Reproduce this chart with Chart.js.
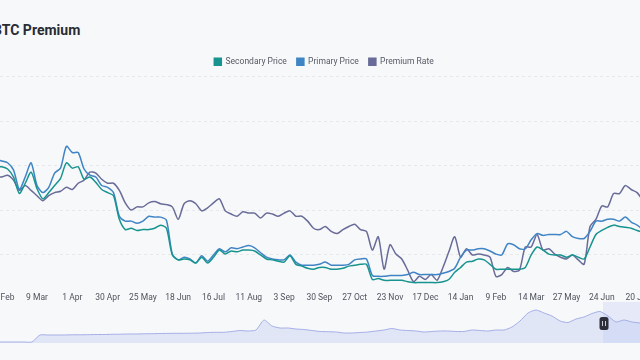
<!DOCTYPE html>
<html>
<head>
<meta charset="utf-8">
<script src="https://cdn.jsdelivr.net/npm/chart.js@4.4.0/dist/chart.umd.min.js"></script>
<style>
    html, body { margin: 0; padding: 0; width: 640px; height: 360px; overflow: hidden; background: #f7f8fa; font-family: Roboto, sans-serif; }
    #title { position: absolute; left: -7px; top: 22px; font-size: 14px; font-weight: 700; color: #2a2c33; white-space: nowrap; }
    #mainBox { position: absolute; left: -36px; top: 40px; width: 720px; height: 266px; }
    #sliderBox { position: absolute; left: 0; top: 300px; width: 640px; height: 43px; }
</style>
</head>
<body>
<div id="title">BTC Premium</div>
<div id="mainBox"><canvas id="mainChart"></canvas></div>
<div id="sliderBox"><canvas id="sliderChart"></canvas></div>
<script>
// tick labels on the x axis (one every 6 samples)
const tickLabels = ['13 Feb', '9 Mar', '1 Apr', '30 Apr', '25 May', '18 Jun', '16 Jul', '11 Aug', '3 Sep', '30 Sep',
    '27 Oct', '23 Nov', '17 Dec', '14 Jan', '9 Feb', '14 Mar', '27 May', '24 Jun', '20 Jul'];
const PER_TICK = 6;   // samples between two tick labels
const FIRST = -1;     // index of the first sample relative to the first tick

const secondaryPrice = [
    29.8, 29.8, 29.3, 27.5, 23.8, 26.1, 28.6, 24.9, 22.6, 24.0,
    25.6, 27.2, 30.7, 29.5, 29.8, 27.0, 27.5, 26.3, 24.7, 24.0,
    23.3, 18.0, 15.7, 16.0, 15.5, 15.7, 15.7, 16.0, 16.7, 16.0,
    10.0, 8.9, 9.1, 8.9, 8.2, 9.5, 8.2, 9.5, 11.1, 10.2,
    10.9, 10.7, 11.1, 11.1, 10.9, 10.0, 9.1, 8.9, 8.6, 8.4,
    9.8, 7.9, 7.5, 7.0, 6.8, 7.2, 7.2, 6.8, 6.8, 7.0,
    7.5, 7.7, 7.9, 7.9, 4.5, 4.7, 4.3, 4.3, 4.3, 4.3,
    4.0, 3.8, 3.8, 3.8, 3.8, 3.8, 4.0, 4.5, 6.1, 7.2,
    8.4, 8.6, 9.1, 8.9, 7.9, 6.8, 6.8, 6.8, 6.8, 6.8,
    7.2, 10.0, 11.8, 11.1, 10.2, 10.0, 10.0, 9.5, 10.0, 9.5,
    9.1, 11.8, 14.6, 15.5, 16.2, 16.7, 16.4, 16.2, 16.0, 15.5,
    15.1
];
const primaryPrice = [
    31.4, 31.1, 30.7, 29.1, 24.7, 27.5, 30.7, 25.6, 24.0, 25.2,
    28.4, 29.5, 34.4, 33.0, 33.0, 29.3, 27.9, 27.5, 25.6, 25.2,
    24.0, 18.7, 17.6, 17.6, 17.1, 17.6, 18.7, 18.5, 18.5, 17.8,
    10.2, 8.9, 9.5, 9.1, 8.2, 9.8, 8.6, 10.0, 11.4, 10.7,
    11.6, 11.4, 11.8, 12.1, 11.6, 10.5, 9.5, 9.1, 8.9, 8.9,
    10.0, 8.4, 7.7, 7.7, 7.7, 7.9, 8.4, 7.7, 7.7, 7.7,
    7.9, 8.9, 9.1, 9.1, 5.4, 5.2, 5.2, 5.4, 5.4, 5.4,
    5.6, 6.1, 5.6, 5.6, 5.6, 5.6, 5.9, 6.3, 7.0, 9.5,
    11.1, 11.1, 11.4, 11.4, 10.9, 10.2, 10.0, 12.5, 12.3, 11.4,
    11.4, 13.4, 14.8, 14.4, 14.6, 14.6, 14.6, 15.3, 14.1, 13.7,
    13.7, 15.3, 17.6, 17.6, 18.0, 18.0, 17.6, 18.5, 17.4, 16.7,
    15.7
];
const premiumRate = [
    27.7, 27.5, 27.9, 26.8, 24.5, 25.6, 24.5, 23.3, 22.2, 23.3,
    24.0, 24.3, 25.2, 24.7, 26.1, 26.8, 28.6, 28.4, 27.0, 26.1,
    26.1, 24.5, 21.7, 20.1, 20.8, 20.8, 21.7, 22.0, 21.5, 21.3,
    20.8, 18.0, 21.5, 22.2, 21.5, 19.9, 20.6, 21.7, 22.6, 19.9,
    19.2, 18.7, 19.7, 19.4, 19.4, 18.3, 19.4, 19.2, 18.7, 19.4,
    19.9, 18.7, 18.7, 17.6, 16.0, 15.7, 16.4, 15.3, 14.8, 15.7,
    16.4, 16.9, 15.7, 15.3, 11.1, 14.1, 6.8, 12.3, 10.2, 9.1,
    6.6, 4.0, 5.2, 4.5, 5.6, 4.3, 7.2, 10.7, 14.1, 9.5,
    11.4, 10.0, 10.2, 10.0, 9.5, 5.2, 5.6, 7.2, 6.3, 6.6,
    11.8, 11.8, 14.6, 11.1, 11.4, 10.2, 9.5, 9.1, 10.0, 8.9,
    7.9, 16.4, 18.0, 21.0, 20.8, 23.8, 23.8, 25.6, 24.7, 24.0,
    22.2
];

// overview series shown in the zoom slider under the chart
const SLIDER_STEP = 8;
const sliderValues = [
    1, 1, 1, 1, 1, 8, 8, 8, 8, 8.2,
    8.2, 8.3, 8.5, 8.5, 8.7, 8.8, 9, 9, 9.2, 9.3,
    9.5, 9.6, 9.7, 9.7, 9.8, 10, 10.5, 10.7, 10.7, 11.5,
    12.5, 12, 13, 23, 17, 15, 15, 14, 13.5, 12.5,
    11.5, 11.3, 11, 10, 10, 10.5, 11, 12, 13, 14.5,
    13, 12.5, 12, 11, 11.5, 12, 12, 11.5, 11.5, 13,
    12.5, 12, 13, 13, 16, 22, 30, 33, 30, 27,
    22, 20.5, 24, 26, 29.5, 31.5, 27, 21, 23, 21,
    20
];
const sliderWindow = [603, 640];

function toPoints(values) {
    return values.map((v, i) => ({ x: (i + FIRST) / PER_TICK, y: v }));
}

const mainChart = new Chart(document.getElementById('mainChart'), {
    type: 'line',
    data: {
        datasets: [
            { label: 'Secondary Price', data: toPoints(secondaryPrice), borderColor: '#17948f', backgroundColor: '#17948f' },
            { label: 'Primary Price', data: toPoints(primaryPrice), borderColor: '#3f84c5', backgroundColor: '#3f84c5' },
            { label: 'Premium Rate', data: toPoints(premiumRate), borderColor: '#696b98', backgroundColor: '#696b98' }
        ]
    },
    options: {
        responsive: true,
        maintainAspectRatio: false,
        animation: false,
        layout: { padding: { top: 7.6, left: 0, right: 0, bottom: 0 } },
        elements: {
            line: { borderWidth: 1.5, tension: 0.25 },
            point: { radius: 0 }
        },
        plugins: {
            tooltip: { enabled: false },
            legend: {
                position: 'top',
                labels: {
                    boxWidth: 7,
                    boxHeight: 7,
                    padding: 10,
                    color: '#555a63',
                    font: { family: 'Roboto', size: 8.5 }
                }
            }
        },
        scales: {
            x: {
                type: 'linear',
                min: -1.068,
                max: 19.329,
                afterBuildTicks: scale => { scale.ticks = tickLabels.map((_, i) => ({ value: i })); },
                ticks: {
                    autoSkip: false,
                    maxRotation: 0,
                    padding: 3,
                    color: '#4f535c',
                    font: { family: 'Roboto', size: 8.5 },
                    callback: value => tickLabels[value] || ''
                },
                grid: { display: false, drawTicks: false },
                border: { display: false }
            },
            y: {
                min: 2.18,
                max: 50.16,
                afterBuildTicks: scale => { scale.ticks = [10, 20, 30, 40, 50].map(v => ({ value: v })); },
                ticks: { display: false },
                grid: { color: '#e6e8ec', drawTicks: false },
                border: { display: false, dash: [3, 3] }
            }
        }
    }
});

// slider window + handle
const sliderDecor = {
    id: 'sliderDecor',
    beforeDatasetsDraw(chart) {
        const { ctx, chartArea, scales } = chart;
        const x0 = scales.x.getPixelForValue(sliderWindow[0]);
        const x1 = scales.x.getPixelForValue(sliderWindow[1]);
        ctx.save();
        ctx.fillStyle = 'rgba(140, 158, 240, 0.16)';
        ctx.fillRect(x0, chartArea.top + 2, x1 - x0, chartArea.bottom - chartArea.top - 2);
        ctx.restore();
    },
    afterDraw(chart) {
        const { ctx, chartArea, scales } = chart;
        const cx = scales.x.getPixelForValue(sliderWindow[0]) + 1;
        const cy = (chartArea.top + chartArea.bottom) / 2 + 2;
        ctx.save();
        ctx.fillStyle = '#2d2f3b';
        ctx.beginPath();
        ctx.roundRect(cx - 4.5, cy - 6.5, 9, 13, 2.5);
        ctx.fill();
        ctx.fillStyle = '#c9ccd6';
        ctx.fillRect(cx - 2, cy - 2.5, 1, 5);
        ctx.fillRect(cx + 1, cy - 2.5, 1, 5);
        ctx.restore();
    }
};

const sliderChart = new Chart(document.getElementById('sliderChart'), {
    type: 'line',
    data: {
        datasets: [{
            data: sliderValues.map((v, i) => ({ x: i * SLIDER_STEP, y: v })),
            borderColor: '#a4aee6',
            backgroundColor: 'rgba(170, 182, 238, 0.28)',
            borderWidth: 1,
            fill: 'origin',
            tension: 0.2,
            pointRadius: 0
        }]
    },
    options: {
        responsive: true,
        maintainAspectRatio: false,
        animation: false,
        layout: { padding: 0 },
        plugins: { legend: { display: false }, tooltip: { enabled: false } },
        scales: {
            x: { type: 'linear', min: 0, max: 640, display: false },
            y: { min: 0, max: 43, display: false }
        }
    },
    plugins: [sliderDecor]
});
</script>
</body>
</html>
